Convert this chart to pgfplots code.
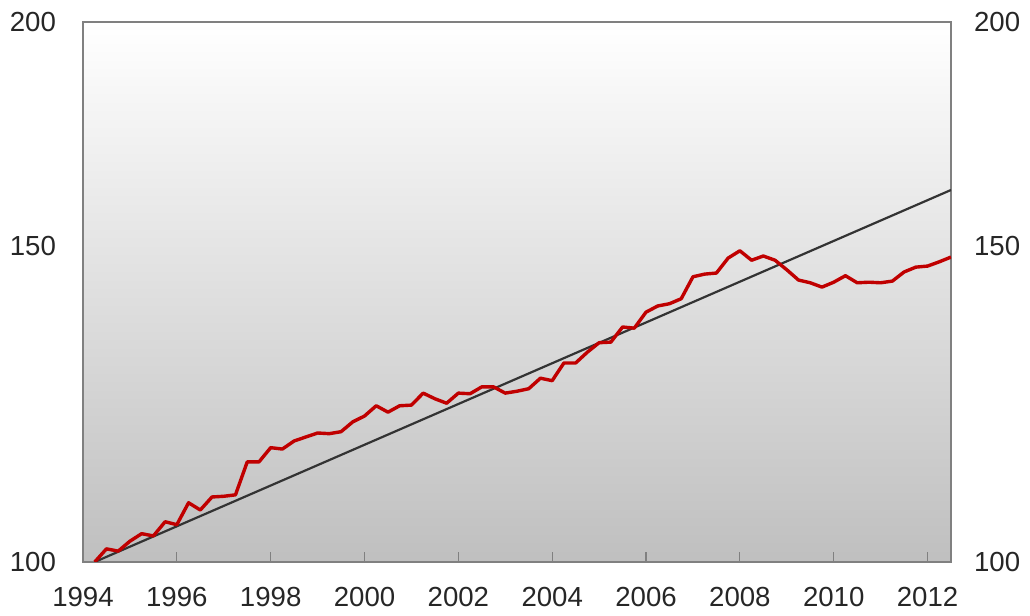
\documentclass[border=0pt]{standalone}
\usepackage{pgfplots}
\pgfplotsset{compat=1.18}
\usepackage{fontspec}
\setmainfont{Liberation Sans}

\definecolor{redline}{HTML}{C00000}
\definecolor{frame}{HTML}{808080}
\definecolor{txt}{HTML}{262626}

% quarterly index, 1994 = 100
\pgfplotstableread{
x y
1994.25 100.0
1994.50 101.7
1994.75 101.4
1995.00 102.7
1995.25 103.7
1995.50 103.4
1995.75 105.3
1996.00 104.9
1996.25 107.9
1996.50 106.9
1996.75 108.7
1997.00 108.8
1997.25 109.0
1997.50 113.7
1997.75 113.7
1998.00 115.8
1998.25 115.6
1998.50 116.8
1998.75 117.4
1999.00 118.0
1999.25 117.9
1999.50 118.2
1999.75 119.7
2000.00 120.6
2000.25 122.2
2000.50 121.2
2000.75 122.2
2001.00 122.3
2001.25 124.2
2001.50 123.3
2001.75 122.6
2002.00 124.2
2002.25 124.1
2002.50 125.2
2002.75 125.2
2003.00 124.2
2003.25 124.5
2003.50 124.9
2003.75 126.6
2004.00 126.2
2004.25 129.1
2004.50 129.1
2004.75 130.9
2005.00 132.5
2005.25 132.6
2005.50 135.2
2005.75 135.0
2006.00 137.8
2006.25 138.9
2006.50 139.3
2006.75 140.2
2007.00 144.2
2007.25 144.7
2007.50 144.9
2007.75 147.7
2008.00 149.1
2008.25 147.3
2008.50 148.1
2008.75 147.3
2009.00 145.5
2009.25 143.6
2009.50 143.1
2009.75 142.3
2010.00 143.2
2010.25 144.4
2010.50 143.1
2010.75 143.2
2011.00 143.1
2011.25 143.4
2011.50 145.1
2011.75 146.0
2012.00 146.2
2012.25 147.0
2012.50 147.9
}\indexdata

\pgfplotstableread{
x y
1994.25 100.0
2012.50 161.2
}\trenddata

\begin{document}
\begin{tikzpicture}[font=\fontsize{13.8}{16}\selectfont]
\begin{axis}[
  scale only axis, width=434pt, height=270pt,
  xmin=1994, xmax=2012.5,
  ymode=log, ymin=100, ymax=200,
  ytick={100,150,200}, yticklabels={100,150,200},
  log ticks with fixed point,
  tick label style={text=txt},
  axis line style={frame, line width=1.2pt},
  axis background/.style={shade, top color=white, bottom color=black!25},
  xtick={1994,1996,...,2012},
  xticklabels={1994,1996,1998,2000,2002,2004,2006,2008,2010,2012},
  xtick pos=bottom, ytick pos=left,
  xtick align=inside,
  major x tick style={frame, line width=0.6pt},
  major tick length=5pt,
  major y tick style={draw=none},
  xticklabel style={yshift=-9pt},
  yticklabel style={xshift=-10pt},
]
  \addplot[black!80, line width=1.1pt] table {\trenddata};
  \addplot[redline, line width=1.7pt, line join=round] table {\indexdata};
\end{axis}
\begin{axis}[
  scale only axis, width=434pt, height=270pt,
  xmin=1994, xmax=2012.5,
  ymode=log, ymin=100, ymax=200,
  ytick={100,150,200}, yticklabels={100,150,200},
  tick label style={text=txt},
  axis y line*=right, axis x line=none,
  y axis line style={draw=none},
  major y tick style={draw=none},
  yticklabel style={xshift=8pt},
]
  \addplot[draw=none] table {\trenddata};
\end{axis}
\pgfresetboundingbox
\useasboundingbox (current axis.south west) ++(-41.5pt,-26.5pt)
  rectangle ([shift={(39.5pt,11pt)}]current axis.north east);
\end{tikzpicture}
\end{document}
